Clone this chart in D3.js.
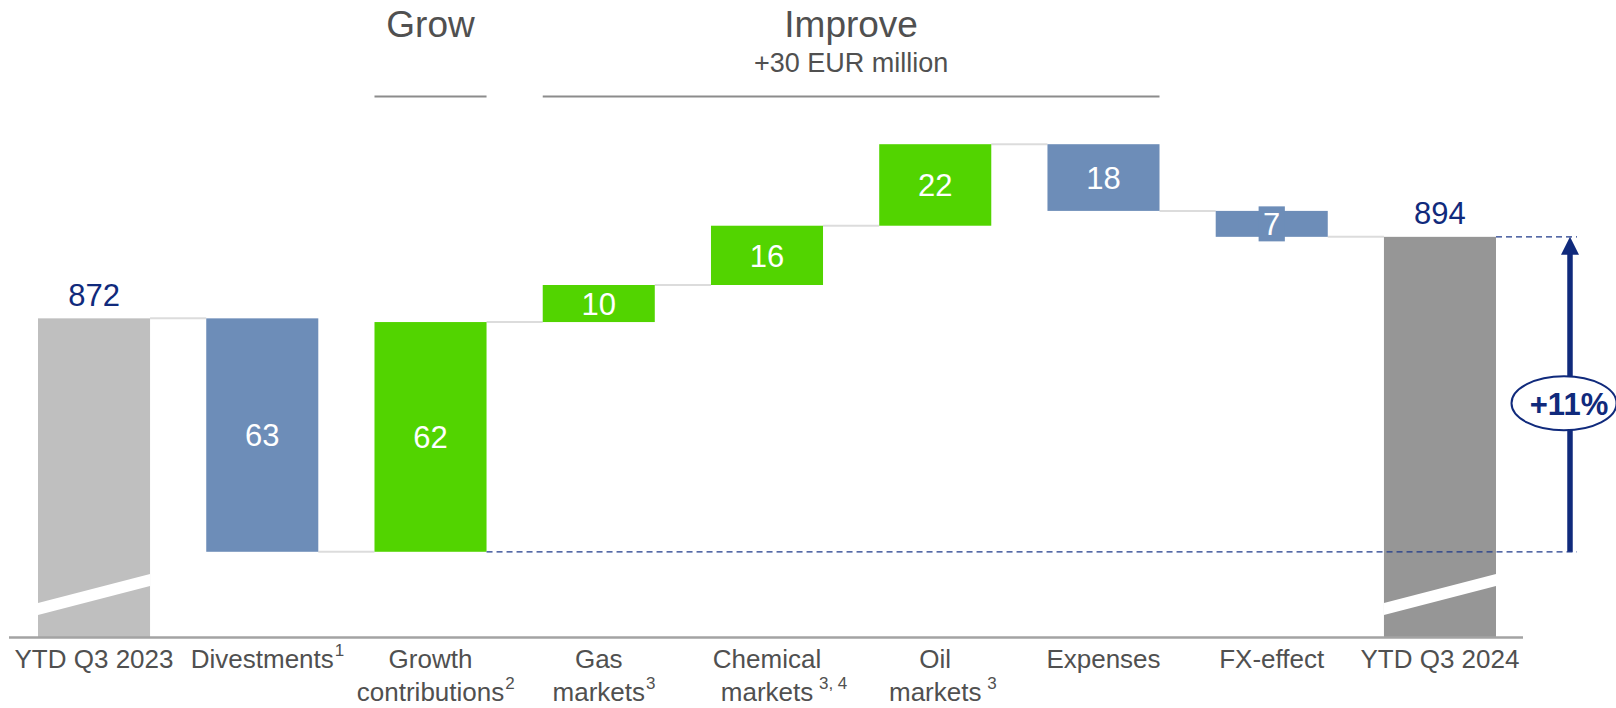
<!DOCTYPE html>
<html>
<head>
<meta charset="utf-8">
<script src="https://cdn.jsdelivr.net/npm/d3@7"></script>
<style>
  html, body { margin: 0; padding: 0; background: #ffffff; }
  #chart { width: 1616px; height: 708px; }
  svg { display: block; font-family: "Liberation Sans", Arial, sans-serif; }
</style>
</head>
<body>
<div id="chart"></div>
<script>
// Chart data
const categories = ["YTD Q3 2023", "Divestments", "Growth contributions", "Gas markets", "Chemical markets", "Oil markets", "Expenses", "FX-effect", "YTD Q3 2024"];
const labelLines = [["YTD Q3 2023"], ["Divestments"], ["Growth", "contributions"], ["Gas", "markets"], ["Chemical", "markets"], ["Oil", "markets"], ["Expenses"], ["FX-effect"], ["YTD Q3 2024"]];
const footnotes  = ["", "1", "2", "3", " 3, 4", " 3", "", "", ""];
const values     = [872, -63, 62, 10, 16, 22, -18, -7, 894];
const barTypes   = ["total", "delta", "delta", "delta", "delta", "delta", "delta", "delta", "total"];

// Header groups above the bars
const headerTitles    = ["Grow", "Improve"];
const headerSubtitles = ["", "+30 EUR million"];
const headerFrom      = ["Growth contributions", "Gas markets"];
const headerTo        = ["Growth contributions", "Expenses"];

class WaterfallChart
{
  constructor(iHostElement)
  {
    this.width  = iHostElement.offsetWidth;
    this.height = iHostElement.offsetHeight;

    // Colours
    this.totalColors = ["#BFBFBF", "#969696"];
    this.upColor     = "#52D400";
    this.downColor   = "#6D8DB8";
    this.navy        = "#102A7C";
    this.textGrey    = "#505050";

    this.svg = d3.select(iHostElement)
      .append("svg")
      .attr("width", this.width)
      .attr("height", this.height);

    // Scales (value axis is broken, it starts at 786)
    this.x = d3.scaleBand()
      .domain(categories)
      .range([38, 1496])
      .paddingInner(0.334)
      .paddingOuter(0);

    this.y = d3.scaleLinear()
      .domain([786, 920])
      .range([637, 140.5]);

    this.bw = this.x.bandwidth();
    this.base = this.y.domain()[0];

    this.buildSteps();
  }

  buildSteps()
  {
    let running = 0;
    this.steps = categories.map((c, i) =>
    {
      let s = {name: c, value: values[i], type: barTypes[i], index: i};
      if (s.type === "total") { s.start = this.base; s.end = values[i]; running = values[i]; }
      else { s.start = running; s.end = running + values[i]; running = s.end; }
      return s;
    });
  }

  barColor(d)
  {
    if (d.type === "total") { return d.index === 0 ? this.totalColors[0] : this.totalColors[1]; }
    return d.value >= 0 ? this.upColor : this.downColor;
  }

  drawConnectors()
  {
    let links = this.steps.slice(0, -1).map((d, i) => ({from: d.name, to: this.steps[i + 1].name, level: d.end}));

    this.svg.append("g").attr("class", "connectors")
      .selectAll("line")
      .data(links)
      .join("line")
      .attr("x1", d => this.x(d.from) + this.bw)
      .attr("x2", d => this.x(d.to))
      .attr("y1", d => this.y(d.level))
      .attr("y2", d => this.y(d.level))
      .attr("stroke", "#DCDCDC")
      .attr("stroke-width", 2);
  }

  drawBars()
  {
    let g = this.svg.append("g").attr("class", "bars");

    g.selectAll("rect")
      .data(this.steps)
      .join("rect")
      .attr("x", d => this.x(d.name))
      .attr("width", this.bw)
      .attr("y", d => this.y(Math.max(d.start, d.end)))
      .attr("height", d => Math.abs(this.y(d.start) - this.y(d.end)))
      .attr("fill", d => this.barColor(d));

    // Axis break stripe on the two total bars
    let y0 = this.y(this.base);
    g.selectAll("polygon")
      .data(this.steps.filter(d => d.type === "total"))
      .join("polygon")
      .attr("points", d =>
      {
        let x0 = this.x(d.name), x1 = x0 + this.bw;
        return [[x0, y0 - 34], [x1, y0 - 63], [x1, y0 - 51], [x0, y0 - 22]].map(p => p.join(",")).join(" ");
      })
      .attr("fill", "#ffffff");
  }

  drawValueLabels()
  {
    let g = this.svg.append("g").attr("class", "values");

    // Totals above the bar
    g.selectAll("text.total")
      .data(this.steps.filter(d => d.type === "total"))
      .join("text")
      .attr("class", "total")
      .attr("x", d => this.x(d.name) + this.bw / 2)
      .attr("y", d => this.y(d.end) - 12.5)
      .attr("text-anchor", "middle")
      .attr("font-size", 31)
      .attr("fill", this.navy)
      .text(d => d.value);

    // Deltas inside the bar
    let deltas = this.steps.filter(d => d.type === "delta");
    let labels = g.selectAll("g.delta")
      .data(deltas)
      .join("g")
      .attr("class", "delta")
      .attr("transform", d => `translate(${this.x(d.name) + this.bw / 2},${(this.y(d.start) + this.y(d.end)) / 2})`);

    let texts = labels.append("text")
      .attr("text-anchor", "middle")
      .attr("dy", "0.36em")
      .attr("font-size", 31)
      .attr("fill", "#ffffff")
      .text(d => Math.abs(d.value));

    // Small bars get a box behind the label
    texts.each((d, i, nodes) =>
    {
      let h = Math.abs(this.y(d.start) - this.y(d.end));
      if (h >= 36) { return; }
      let bb = nodes[i].getBBox();
      d3.select(nodes[i].parentNode).insert("rect", "text")
        .attr("x", bb.x - 4.5)
        .attr("y", -17.5)
        .attr("width", bb.width + 9)
        .attr("height", 35)
        .attr("fill", this.barColor(d));
    });
  }

  drawAxis()
  {
    let y0 = this.y(this.base);
    let r = this.x.range();

    this.svg.append("line")
      .attr("x1", r[0] - 29)
      .attr("x2", r[1] + 27)
      .attr("y1", y0 + 0.5)
      .attr("y2", y0 + 0.5)
      .attr("stroke", "#A3A3A3")
      .attr("stroke-width", 2.5);

    let g = this.svg.append("g").attr("class", "cat-labels");
    categories.forEach((c, i) =>
    {
      let cx = this.x(c) + this.bw / 2;
      let lines = labelLines[i];
      lines.forEach((line, j) =>
      {
        let by = y0 + 31 + j * 33;
        let t = g.append("text")
          .attr("x", cx)
          .attr("y", by)
          .attr("text-anchor", "middle")
          .attr("font-size", 26)
          .attr("fill", this.textGrey)
          .text(line);

        // Footnote marker on the last line
        if (j === lines.length - 1 && footnotes[i] !== "")
        {
          let len = t.node().getComputedTextLength();
          g.append("text")
            .attr("x", cx + len / 2 + 1)
            .attr("y", by - 12)
            .attr("font-size", 17)
            .attr("fill", this.textGrey)
            .style("white-space", "pre")
            .text(footnotes[i]);
        }
      });
    });
  }

  drawHeaders()
  {
    let g = this.svg.append("g").attr("class", "headers");
    headerTitles.forEach((title, i) =>
    {
      let x1 = this.x(headerFrom[i]);
      let x2 = this.x(headerTo[i]) + this.bw;
      let cx = (x1 + x2) / 2;

      g.append("line")
        .attr("x1", x1).attr("x2", x2)
        .attr("y1", 96.5).attr("y2", 96.5)
        .attr("stroke", "#8C8C8C")
        .attr("stroke-width", 2);

      g.append("text")
        .attr("x", cx).attr("y", 37)
        .attr("text-anchor", "middle")
        .attr("font-size", 37)
        .attr("fill", this.textGrey)
        .text(title);

      if (headerSubtitles[i] !== "")
      {
        g.append("text")
          .attr("x", cx).attr("y", 71.5)
          .attr("text-anchor", "middle")
          .attr("font-size", 27)
          .attr("fill", this.textGrey)
          .text(headerSubtitles[i]);
      }
    });
  }

  drawGrowthArrow()
  {
    let g = this.svg.append("g").attr("class", "growth");
    let first = this.steps[1].end;                 // level after divestments
    let last  = this.steps[this.steps.length - 1];
    let lastRight = this.x(last.name) + this.bw;
    let yLow  = this.y(first);
    let yHigh = this.y(last.end);
    let ax = lastRight + 74;

    // Dashed reference lines
    [[this.x(categories[2]) + this.bw, yLow], [lastRight, yHigh]].forEach(p =>
    {
      g.append("line")
        .attr("x1", p[0]).attr("x2", lastRight + 81)
        .attr("y1", p[1]).attr("y2", p[1])
        .attr("stroke", "#1F3A8A")
        .attr("stroke-width", 1.3)
        .attr("stroke-dasharray", "6,4");
    });

    // Arrow
    g.append("line")
      .attr("x1", ax).attr("x2", ax)
      .attr("y1", yLow).attr("y2", yHigh + 16)
      .attr("stroke", this.navy)
      .attr("stroke-width", 5.5);

    g.append("polygon")
      .attr("points", `${ax},${yHigh} ${ax - 9},${yHigh + 18} ${ax + 9},${yHigh + 18}`)
      .attr("fill", this.navy);

    // Percentage bubble
    let cy = (yLow + yHigh) / 2 + 9;
    g.append("ellipse")
      .attr("cx", ax - 6).attr("cy", cy)
      .attr("rx", 52.5).attr("ry", 27)
      .attr("fill", "#ffffff")
      .attr("stroke", this.navy)
      .attr("stroke-width", 2);

    g.append("text")
      .attr("x", ax - 1).attr("y", cy + 12)
      .attr("text-anchor", "middle")
      .attr("font-size", 31)
      .attr("font-weight", "bold")
      .attr("fill", this.navy)
      .text(d3.format("+.0%")(last.end / first - 1));
  }

  render()
  {
    this.drawHeaders();
    this.drawConnectors();
    this.drawBars();
    this.drawValueLabels();
    this.drawAxis();
    this.drawGrowthArrow();
  }
}

const chart = new WaterfallChart(document.getElementById("chart"));
chart.render();
</script>
</body>
</html>
